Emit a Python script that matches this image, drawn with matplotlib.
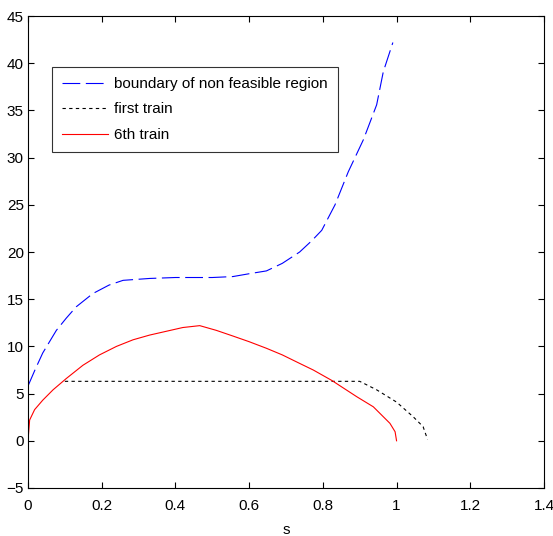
import matplotlib
matplotlib.use("Agg")
import matplotlib.pyplot as plt

plt.rcParams['font.family'] = ['Liberation Sans', 'DejaVu Sans']

# boundary of non feasible region
s_blue = [0.0, 0.02, 0.04, 0.077, 0.104, 0.131, 0.176, 0.22, 0.258, 0.33, 0.40, 0.50, 0.556, 0.60, 0.647,
          0.69, 0.737, 0.77, 0.797, 0.833, 0.869, 0.91, 0.946, 0.964, 0.99]
v_blue = [5.8, 7.6, 9.3, 11.7, 13.0, 14.2, 15.6, 16.5, 17.0, 17.2, 17.3, 17.3, 17.4, 17.7, 18.0,
          18.8, 20.0, 21.2, 22.3, 25.0, 28.5, 31.9, 35.6, 39.1, 42.2]

# first train
s_first = [0.10, 0.30, 0.50, 0.70, 0.90, 0.946, 1.0, 1.045, 1.072, 1.084]
v_first = [6.3, 6.3, 6.3, 6.3, 6.3, 5.4, 4.1, 2.55, 1.5, 0.15]

# 6th train
s_red = [0.0, 0.0045, 0.018, 0.04, 0.068, 0.104, 0.149, 0.194, 0.24, 0.285, 0.33, 0.375, 0.42, 0.466,
         0.511, 0.556, 0.60, 0.647, 0.69, 0.737, 0.774, 0.824, 0.892, 0.937, 0.982, 0.996, 1.0]
v_red = [0.0, 2.2, 3.3, 4.3, 5.4, 6.6, 8.0, 9.1, 10.0, 10.7, 11.2, 11.6, 12.0, 12.2,
         11.7, 11.1, 10.5, 9.8, 9.1, 8.2, 7.5, 6.4, 4.67, 3.6, 1.85, 0.96, 0.0]

xticks = [0, 0.2, 0.4, 0.6, 0.8, 1, 1.2, 1.4]
xticklabels = ['0', '0.2', '0.4', '0.6', '0.8', '1', '1.2', '1.4']
yticks = [-5, 0, 5, 10, 15, 20, 25, 30, 35, 40, 45]

fig = plt.figure(figsize=(5.53, 5.36), dpi=100)
ax = fig.add_axes([0.0506, 0.0896, 0.9331, 0.8804])

ax.plot(s_blue, v_blue, color='#0000ff', lw=0.8, ls=(0, (16, 5)), label='boundary of non feasible region')
ax.plot(s_first, v_first, color='black', lw=0.8, ls=(0, (3, 3)), label='first train')
ax.plot(s_red, v_red, color='#ff0000', lw=0.8, label='6th train')

ax.set_xlim(0, 1.4)
ax.set_ylim(-5, 45)
ax.set_xticks(xticks)
ax.set_xticklabels(xticklabels)
ax.set_yticks(yticks)
ax.tick_params(direction='in', top=True, right=True, length=4, labelsize=11, colors='black')
ax.tick_params(axis='x', pad=8)
ax.tick_params(axis='y', pad=3)
for sp in ax.spines.values():
    sp.set_linewidth(0.8)
ax.set_xlabel('s', fontsize=11)
ax.xaxis.set_label_coords(0.5, -0.075)

leg = ax.legend(loc='upper left', bbox_to_anchor=(0.047, 0.892), fontsize=11,
                frameon=True, fancybox=False, edgecolor='black', handlelength=3.0,
                handletextpad=0.4, borderpad=0.65, labelspacing=0.75, borderaxespad=0)
leg.get_frame().set_linewidth(0.8)

fig.savefig('out.png', dpi=100)
